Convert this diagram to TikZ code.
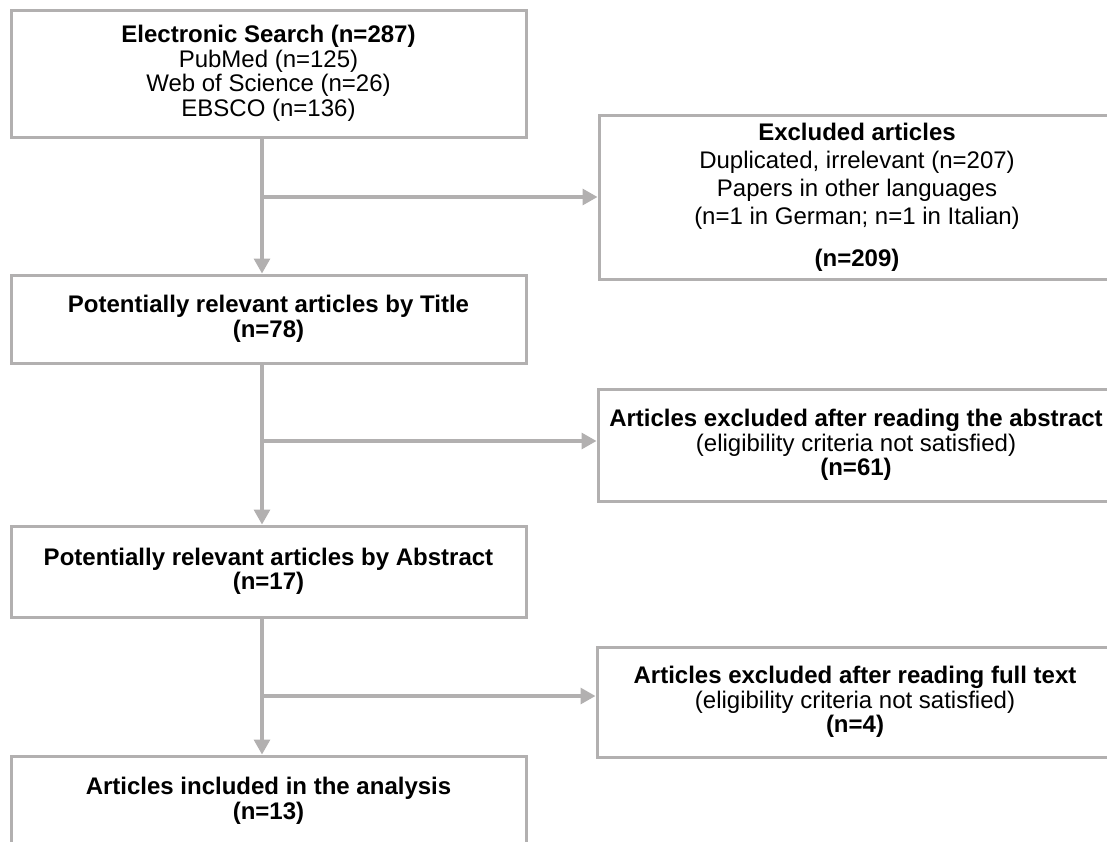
\documentclass[tikz,border=0pt]{standalone}
\usepackage{fontspec}
\setmainfont{Liberation Sans}
\usetikzlibrary{arrows.meta}
\definecolor{linegray}{RGB}{178,176,176}

\begin{document}
\begin{tikzpicture}[x=0.5pt,y=-0.5pt,
  box/.style={draw=linegray, line width=1.5pt, align=center, inner sep=0pt,
    font=\fontsize{12pt}{12.25pt}\selectfont},
  leftbox/.style={box, minimum width=257.5pt},
  rightbox/.style={box, minimum width=258pt},
  arr/.style={draw=linegray, line width=1.6pt, -{Triangle[length=7.5pt,width=8pt]}}]
  \useasboundingbox (0,0) rectangle (1107,841);
  % main column
  \node[leftbox, minimum height=63.5pt] (search) at (268.5,73.5)
    {\textbf{Electronic Search (n=287)}\\PubMed (n=125)\\Web of Science (n=26)\\EBSCO (n=136)};
  \node[leftbox, minimum height=44pt] (title) at (268.5,319)
    {\textbf{Potentially relevant articles by Title}\\\textbf{(n=78)}};
  \node[leftbox, minimum height=45.5pt] (abstract) at (268.5,571.5)
    {\textbf{Potentially relevant articles by Abstract}\\\textbf{(n=17)}};
  \node[leftbox, minimum height=45pt] (incl) at (268.5,801)
    {\textbf{Articles included in the analysis}\\\textbf{(n=13)}};
  % excluded boxes
  \node[rightbox, minimum height=82pt, font=\fontsize{12pt}{14pt}\selectfont] (excl) at (857,197)
    {\textbf{Excluded articles}\\Duplicated, irrelevant (n=207)\\Papers in other languages\\(n=1 in German; n=1 in Italian)\\[7pt]\textbf{(n=209)}};
  \node[rightbox, minimum height=56pt] (abst) at (856,445)
    {\textbf{Articles excluded after reading the abstract}\\(eligibility criteria not satisfied)\\\textbf{(n=61)}};
  \node[rightbox, minimum height=55pt] (full) at (855,702)
    {\textbf{Articles excluded after reading full text}\\(eligibility criteria not satisfied)\\\textbf{(n=4)}};
  % trunk and branch points
  \coordinate (trunk) at (262,0);
  \coordinate (br1) at (0,197);
  \coordinate (br2) at (0,441);
  \coordinate (br3) at (0,696);
  % downward arrows
  \draw[arr] (search.south -| trunk) -- (title.north -| trunk);
  \draw[arr] (title.south -| trunk) -- (abstract.north -| trunk);
  \draw[arr] (abstract.south -| trunk) -- (incl.north -| trunk);
  % side arrows
  \draw[arr] (br1 -| trunk) -- (br1 -| excl.west);
  \draw[arr] (br2 -| trunk) -- (br2 -| abst.west);
  \draw[arr] (br3 -| trunk) -- (br3 -| full.west);
\end{tikzpicture}
\end{document}
